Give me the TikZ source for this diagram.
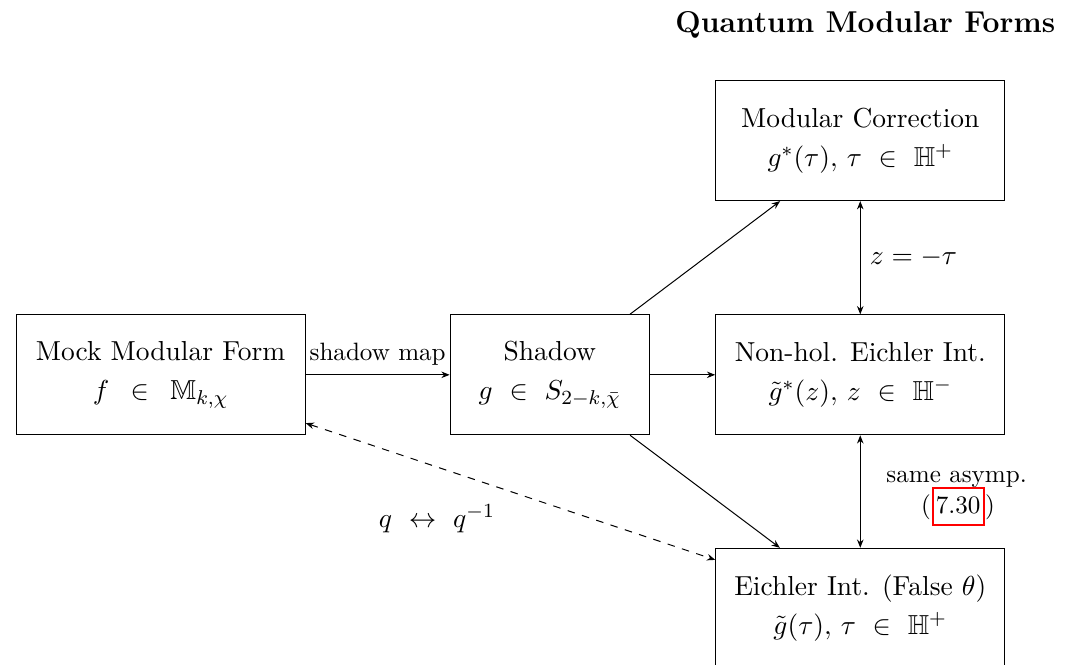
\documentclass[tikz,border=0pt,11pt]{standalone}
\usepackage{amsmath}
\usepackage{amssymb}
\usepackage{xcolor}
\usepackage{tikz}
\usetikzlibrary{arrows.meta, positioning}

\begin{document}
\begin{tikzpicture}[
  arrow/.style={-{Stealth[length=3.3pt, width=2.6pt]}},
  dbl_arrow/.style={{Stealth[length=3.3pt, width=2.6pt]}-{Stealth[length=3.3pt, width=2.6pt]}},
  wide_box/.style={draw, rectangle, minimum width=4.05cm, minimum height=1.68cm, align=center},
  narrow_box/.style={wide_box, minimum width=2.79cm},
  eq_link/.style={draw=red, line width=0.8pt, inner xsep=1.3pt, inner ysep=0.85pt, text height=9pt, text depth=4pt}
]
  \useasboundingbox (0,0) rectangle (14.96,-9.31);

  % Title over the right column
  \node (title) [font=\large\bfseries, anchor=base] at (12.12,-0.45) {Quantum Modular Forms};

  % Left and middle column
  \node (mock) [wide_box] at (2.25,-5.25) {Mock Modular Form \\[2pt] $f \ \,\in\ \, \mathbb{M}_{k,\chi}$};
  \node (shadow) [narrow_box] at (7.70,-5.25) {Shadow \\[2pt] $g \ \in\ S_{2-k,\bar{\chi}}$};

  % Right column
  \node (modcorr) [wide_box] at (12.05,-1.97) {Modular Correction \\[2pt] $g^*(\tau),\, \tau\ \in\ \mathbb{H}^+$};
  \node (nonhol) [wide_box] at (12.05,-5.25) {Non-hol. Eichler Int. \\[2pt] $\tilde{g}^*(z),\, z\ \in\ \mathbb{H}^-$};
  \node (eichler) [wide_box] at (12.05,-8.52) {Eichler Int. (False $\theta$) \\[2pt] $\tilde{g}(\tau),\, \tau\ \in\ \mathbb{H}^+$};

  % Connections
  \draw[arrow] (mock) -- node[above, font=\small] {shadow map} (shadow);
  \draw[arrow] (shadow) -- (nonhol);
  \draw[arrow] (shadow) -- (modcorr);
  \draw[arrow] (shadow) -- (eichler);
  \draw[dbl_arrow] (modcorr) -- node[right] {$z = -\tau$} (nonhol);
  \draw[dbl_arrow] (nonhol) -- (eichler);
  \draw[dbl_arrow, dashed] (mock) -- (eichler);

  % Labels off the connectors
  \node (qswap) at (6.12,-7.27) {$q \ \leftrightarrow\ q^{-1}$};
  \node (asymp) [font=\small] at (13.40,-6.71) {same asymp.};
  \node (eqno) [eq_link, font=\small] at (13.42,-7.10) {7.30};
  \node (lparen) [font=\small, inner sep=0pt, anchor=base east] at (eqno.base west) {(};
  \node (rparen) [font=\small, inner sep=0pt, anchor=base west] at (eqno.base east) {)};

\end{tikzpicture}
\end{document}
